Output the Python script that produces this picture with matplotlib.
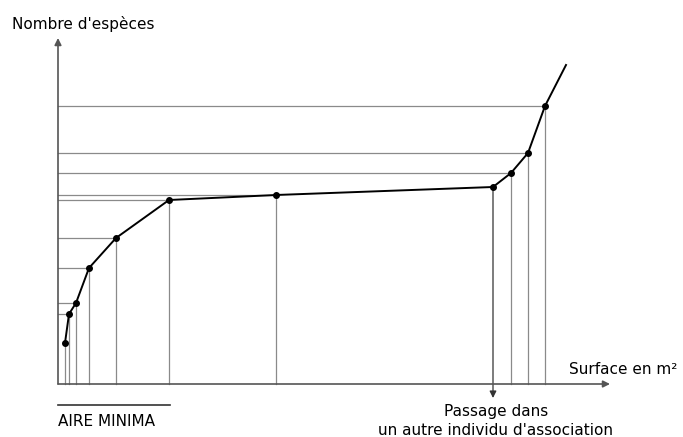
import matplotlib
matplotlib.use('Agg')
import matplotlib.pyplot as plt

#####################  data  ####################
# surface (arbitrary units) and number of species
surface = [7, 11, 18, 31, 58, 111, 218, 435, 453, 470, 487]
especes = [41, 70, 81, 116, 146, 184, 189, 197, 211, 231, 278]
# the curve keeps going past the last sample
surface_fin = 508
especes_fin = 319
# index of the point where we move to another association
i_passage = 7
# points with a guide line to the y axis
guides_h = [1, 2, 3, 4, 5, 6, 8, 9, 10]

label_y = "Nombre d'espèces"
label_x = "Surface en m²"
label_passage = "Passage dans\nun autre individu d'association"
label_aire = "AIRE MINIMA"

#####################  figure  ####################
fig = plt.figure(figsize=(6.83, 4.37), dpi=100)
ax = fig.add_axes([0, 0, 1, 1])
ax.set_xlim(-58, 625)
ax.set_ylim(-53, 384)
ax.axis('off')

grey = '#8a8a8a'
font = 'DejaVu Sans'
fs = 11

# guide lines
for i in guides_h:
    ax.plot([0, surface[i]], [especes[i], especes[i]], color=grey, lw=0.9, zorder=1)
for i in range(len(surface)):
    if i == i_passage:
        continue
    ax.plot([surface[i], surface[i]], [0, especes[i]], color=grey, lw=0.9, zorder=1)

# arrow to the passage
ax.annotate('', xy=(surface[i_passage], -14), xytext=(surface[i_passage], especes[i_passage]),
            arrowprops=dict(arrowstyle='-|>', color='#333333', lw=0.9,
                            mutation_scale=10, shrinkA=0, shrinkB=0), zorder=2)

# axes with arrows
ax.annotate('', xy=(0, 346), xytext=(0, 0),
            arrowprops=dict(arrowstyle='-|>', color='#555555', lw=1.2,
                            mutation_scale=10, shrinkA=0, shrinkB=0))
ax.annotate('', xy=(552, 0), xytext=(0, 0),
            arrowprops=dict(arrowstyle='-|>', color='#555555', lw=1.2,
                            mutation_scale=10, shrinkA=0, shrinkB=0))

# curve
ax.plot(surface + [surface_fin], especes + [especes_fin], color='black', lw=1.4, zorder=3)
ax.plot(surface, especes, 'o', color='black', ms=4, zorder=4)

# texts
ax.text(-46, 360, label_y, fontsize=fs, family=font, va='center', ha='left')
ax.text(619, 14, label_x, fontsize=fs, family=font, va='center', ha='right')
ax.text(surface[i_passage] + 3, -37, label_passage, fontsize=fs, family=font,
        va='center', ha='center', linespacing=1.35)
ax.plot([0, 112], [-21, -21], color='#333333', lw=1.2)
ax.text(0, -37, label_aire, fontsize=fs, family=font, va='center', ha='left')

fig.savefig('out.png', dpi=100)
